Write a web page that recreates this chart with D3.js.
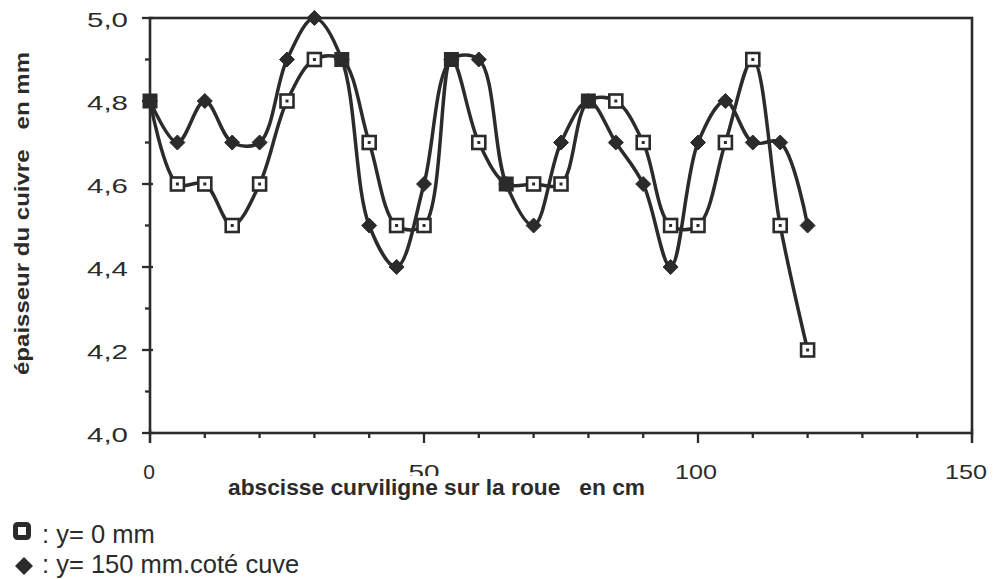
<!DOCTYPE html>
<html><head><meta charset="utf-8">
<script src="https://cdn.jsdelivr.net/npm/d3@7"></script>
<style>
body{margin:0;background:#fff;}
svg{display:block;}
</style></head>
<body>
<svg id="chart" width="998" height="579"></svg>
<script>
const xValues = [0,5,10,15,20,25,30,35,40,45,50,55,60,65,70,75,80,85,90,95,100,105,110,115,120];
const seriesY0 = [4.8,4.6,4.6,4.5,4.6,4.8,4.9,4.9,4.7,4.5,4.5,4.9,4.7,4.6,4.6,4.6,4.8,4.8,4.7,4.5,4.5,4.7,4.9,4.5,4.2];
const seriesY150 = [4.8,4.7,4.8,4.7,4.7,4.9,5.0,4.9,4.5,4.4,4.6,4.9,4.9,4.6,4.5,4.7,4.8,4.7,4.6,4.4,4.7,4.8,4.7,4.7,4.5];
const xTickLabels = [0,50,100,150];
const yTickLabels = ["4,0","4,2","4,4","4,6","4,8","5,0"];
const yTickValues = [4.0,4.2,4.4,4.6,4.8,5.0];
const legendLabels = [": y= 0 mm", ": y= 150 mm.coté cuve"];

const svg = d3.select("#chart");
const L = 150, R = 972, T = 18, B = 433;
const x = d3.scaleLinear().domain([0,150]).range([L,R]);
const y = d3.scaleLinear().domain([4.0,5.0]).range([B,T]);
const ink = "#2b2b2b";
const font = "'Liberation Sans', Arial, Helvetica, sans-serif";

// frame
svg.append("rect").attr("x",L).attr("y",T).attr("width",R-L).attr("height",B-T)
  .attr("fill","none").attr("stroke",ink).attr("stroke-width",2.6);

// x axis ticks
const xMinor = d3.range(0,151,10);
svg.append("g").selectAll("line").data(xMinor).join("line")
  .attr("x1",d=>x(d)).attr("x2",d=>x(d))
  .attr("y1",B).attr("y2",d=>d%50===0?B+10:B+5)
  .attr("stroke",ink).attr("stroke-width",2.3);
svg.append("line").attr("x1",L).attr("x2",L).attr("y1",B-4).attr("y2",B+10).attr("stroke",ink).attr("stroke-width",2.3);
svg.append("line").attr("x1",R).attr("x2",R).attr("y1",B-4).attr("y2",B+10).attr("stroke",ink).attr("stroke-width",2.3);
svg.append("g").selectAll("text").data(xTickLabels).join("text")
  .attr("x",d=>x(d)-(d===150?6:d===100?2:d===0?1:0)).attr("y",479)
  .attr("text-anchor","middle")
  .attr("font-family",font).attr("font-size",21)
  .attr("lengthAdjust","spacingAndGlyphs")
  .each(function(d){ const n=String(d).length; if(n>1) d3.select(this).attr("textLength", n===2?31:42); })
  .attr("fill",ink).text(d=>d);

// y axis ticks
const yMinor = d3.range(0,11).map(i=>4+i*0.1);
svg.append("g").selectAll("line").data(yMinor).join("line")
  .attr("x1",(d,i)=>i%2===0?L-8:L-5).attr("x2",(d,i)=>i%2===0?L+3:L)
  .attr("y1",d=>y(d)).attr("y2",d=>y(d))
  .attr("stroke",ink).attr("stroke-width",2.3);
svg.append("g").selectAll("text").data(yTickValues).join("text")
  .attr("x",L-22).attr("y",d=>y(d)+9)
  .attr("text-anchor","end")
  .attr("font-family",font).attr("font-size",21)
  .attr("textLength",41).attr("lengthAdjust","spacingAndGlyphs")
  .attr("fill",ink).text((d,i)=>yTickLabels[i]);

// axis titles (the title box masks the bottom of the tick labels, as in the original)
svg.append("rect").attr("x",226).attr("y",476).attr("width",424).attr("height",24).attr("fill","#fff");
svg.append("text").attr("x",228).attr("y",495).attr("text-anchor","start")
  .attr("font-family",font).attr("font-weight","bold")
  .attr("font-size",22).attr("textLength",417).attr("lengthAdjust","spacingAndGlyphs")
  .attr("fill",ink).attr("xml:space","preserve")
  .text("abscisse curviligne sur la roue   en cm");
svg.append("text").attr("transform","translate(29,375) rotate(-90)").attr("text-anchor","start")
  .attr("font-family",font).attr("font-weight","bold")
  .attr("font-size",21).attr("textLength",323).attr("lengthAdjust","spacingAndGlyphs")
  .attr("fill",ink).attr("xml:space","preserve")
  .text("épaisseur du cuivre   en mm");

// lines
const line = (vals) => d3.line().x((d,i)=>x(xValues[i])).y(d=>y(d)).curve(d3.curveCatmullRom.alpha(0.5))(vals);
svg.append("path").attr("d",line(seriesY150)).attr("fill","none").attr("stroke",ink).attr("stroke-width",3.5);
svg.append("path").attr("d",line(seriesY0)).attr("fill","none").attr("stroke",ink).attr("stroke-width",3.5);

// markers
function drawSquare(g, cx, cy){
  g.append("rect").attr("x",cx-6.5).attr("y",cy-6.5).attr("width",13).attr("height",13)
    .attr("fill","#fff").attr("stroke",ink).attr("stroke-width",2.6);
  g.append("rect").attr("x",cx-1.5).attr("y",cy-1.5).attr("width",3).attr("height",3).attr("fill",ink);
}
function drawDiamond(g, cx, cy){
  g.append("path").attr("d",`M${cx},${cy-7.5}L${cx+7.5},${cy}L${cx},${cy+7.5}L${cx-7.5},${cy}Z`)
    .attr("fill",ink).attr("stroke",ink).attr("stroke-width",1).attr("stroke-linejoin","round");
}
const gD = svg.append("g");
seriesY150.forEach((v,i)=>drawDiamond(gD, x(xValues[i]), y(v)));
const gS = svg.append("g");
seriesY0.forEach((v,i)=>{
  const overlap = Math.abs(seriesY150[i]-v)<1e-9;
  if(overlap){
    gS.append("rect").attr("x",x(xValues[i])-7.5).attr("y",y(v)-7.5).attr("width",15).attr("height",15).attr("fill",ink);
  } else drawSquare(gS, x(xValues[i]), y(v));
});

// legend
const gl = svg.append("g");
gl.append("rect").attr("x",15.5).attr("y",524.5).attr("width",13).attr("height",13)
  .attr("fill","#fff").attr("stroke",ink).attr("stroke-width",5).attr("rx",2);
gl.append("path").attr("d","M24,557L33,566L24,575L15,566Z").attr("fill",ink);
gl.selectAll("text").data(legendLabels).join("text")
  .attr("x",42).attr("y",(d,i)=>i===0?543:573)
  .attr("font-family",font).attr("font-size",25.5)
  .attr("fill",ink).attr("xml:space","preserve").text(d=>d);
</script>
</body></html>
